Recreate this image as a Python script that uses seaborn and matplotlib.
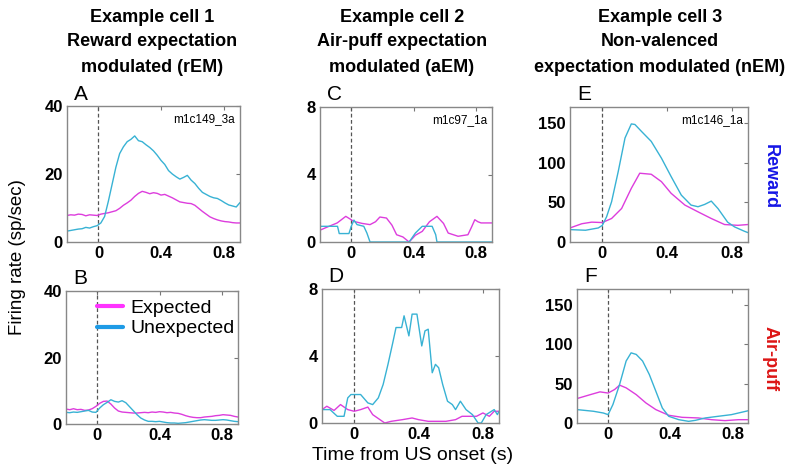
import numpy as np
import matplotlib
matplotlib.use('Agg')
import matplotlib.pyplot as plt
from matplotlib import font_manager
from matplotlib.lines import Line2D
import seaborn as sns

# ---- data ----
# panels A/B share one time grid
t_ab = np.linspace(-0.2, 0.9, 47)

a_expected = [7.8, 8.0, 7.9, 8.2, 8.1, 7.7, 8.0, 7.9, 7.8, 8.2, 8.4, 8.6, 8.9, 9.2, 9.9, 10.8,
              11.5, 12.3, 13.4, 14.3, 14.9, 14.6, 14.2, 14.5, 14.3, 13.8, 14.0, 13.5, 13.0, 12.4,
              11.8, 11.6, 11.4, 11.3, 10.8, 9.9, 9.0, 8.2, 7.4, 6.9, 6.5, 6.2, 6.0, 5.9, 5.7, 5.6, 5.6]
a_unexpected = [3.2, 3.4, 3.6, 3.8, 3.9, 4.3, 4.1, 4.5, 4.8, 5.6, 7.5, 12.0, 17.0, 22.0, 26.0, 28.0,
                29.5, 30.2, 31.2, 29.8, 29.5, 28.6, 27.8, 26.8, 25.5, 24.0, 22.8, 21.0, 20.0, 19.2,
                18.5, 19.0, 19.6, 18.2, 17.2, 15.8, 14.6, 14.0, 13.4, 13.0, 12.8, 12.2, 11.5, 10.9,
                10.6, 10.3, 11.6]

b_expected = [4.5, 4.3, 4.6, 4.3, 4.4, 4.1, 4.2, 4.6, 5.3, 6.2, 6.8, 6.9, 6.0, 4.8, 3.9, 3.6,
              3.5, 3.4, 3.3, 3.3, 3.4, 3.5, 3.4, 3.6, 3.5, 3.7, 3.6, 3.4, 3.5, 3.3, 3.2, 2.9,
              2.5, 2.2, 2.0, 1.9, 1.9, 2.1, 2.2, 2.3, 2.5, 2.6, 2.8, 2.7, 2.6, 2.3, 2.1]
b_unexpected = [3.5, 3.4, 3.6, 3.5, 3.7, 3.9, 4.1, 3.6, 3.5, 4.8, 5.8, 6.5, 7.3, 6.8, 6.6, 7.0,
                6.4, 5.2, 4.0, 2.8, 1.8, 1.2, 0.8, 0.8, 0.7, 0.8, 0.6, 0.4, 0.3, 0.3, 0.2, 0.3,
                0.4, 0.6, 0.8, 1.0, 1.2, 1.3, 1.2, 1.1, 1.1, 1.2, 1.3, 1.2, 1.0, 0.8, 0.7]

c_exp_t = [-0.2, -0.15, -0.09, -0.035, 0.017, 0.07, 0.12, 0.155, 0.183, 0.225, 0.26, 0.29, 0.33,
           0.37, 0.41, 0.454, 0.5, 0.548, 0.59, 0.62, 0.683, 0.746, 0.77, 0.79, 0.81, 0.83, 0.9]
c_exp_v = [0.7, 0.9, 1.13, 1.52, 1.22, 1.1, 1.03, 1.2, 1.48, 1.42, 1.0, 0.43, 0.3,
           0.0, 0.4, 0.63, 1.2, 1.52, 1.1, 0.53, 0.34, 0.43, 0.9, 1.32, 1.2, 1.13, 1.13]
c_unexp_t = [-0.2, -0.088, -0.082, -0.077, -0.015, 0.0, 0.017, 0.037, 0.08, 0.1, 0.12,
             0.37, 0.41, 0.454, 0.517, 0.54, 0.548, 0.9]
c_unexp_v = [0.93, 0.93, 0.7, 0.5, 0.5, 0.93, 1.3, 1.03, 0.93, 0.53, 0.0,
             0.0, 0.53, 0.93, 0.93, 0.43, 0.0, 0.0]

d_exp_t = [-0.2, -0.17, -0.125, -0.085, -0.04, 0, 0.04, 0.085, 0.115, 0.16, 0.19, 0.23,
           0.3, 0.36, 0.4, 0.46, 0.57, 0.63, 0.67, 0.76, 0.8, 0.84, 0.87, 0.9]
d_exp_v = [0.8, 1.0, 0.75, 1.1, 0.8, 0.7, 0.8, 0.95, 0.5, 0.2, 0.0, 0.1,
           0.2, 0.3, 0.2, 0.1, 0.1, 0.2, 0.4, 0.4, 0.6, 0.4, 0.7, 0.7]
d_unexp_t = [-0.2, -0.15, -0.105, -0.063, -0.04, -0.02, 0.04, 0.085, 0.115, 0.15, 0.18, 0.21,
             0.24, 0.26, 0.295, 0.31, 0.34, 0.36, 0.39, 0.42, 0.44, 0.46, 0.485, 0.505, 0.525,
             0.55, 0.58, 0.61, 0.63, 0.66, 0.695, 0.735, 0.77, 0.79, 0.82, 0.87, 0.89, 0.9]
d_unexp_v = [0.8, 0.8, 0.4, 0.4, 1.5, 1.7, 1.7, 1.2, 1.1, 1.5, 2.3, 3.5,
             4.8, 5.7, 5.7, 6.4, 5.2, 6.5, 6.5, 4.6, 5.5, 5.6, 3.0, 3.5, 3.3,
             2.3, 1.3, 1.1, 0.8, 1.3, 0.8, 0.5, 0.0, 0.0, 0.5, 0.8, 0.5, 0.7]

e_exp_t = [-0.2, -0.127, -0.066, 0, 0.057, 0.119, 0.179, 0.231, 0.302, 0.365, 0.425, 0.51,
           0.591, 0.673, 0.755, 0.837, 0.9]
e_exp_v = [17.7, 23, 25, 24.5, 29.6, 42.2, 67.6, 86.6, 85.3, 76, 61.3, 46.5, 38, 29.6, 22, 21, 22]
e_unexp_t = [-0.2, -0.104, -0.025, 0, 0.026, 0.057, 0.098, 0.14, 0.179, 0.201, 0.243, 0.302,
             0.365, 0.425, 0.488, 0.548, 0.591, 0.632, 0.673, 0.715, 0.774, 0.817, 0.878, 0.9]
e_unexp_v = [15.6, 14.8, 17.7, 21, 31.7, 50.7, 88.7, 131, 148.7, 148, 139, 126.7,
             105.6, 82.4, 59, 46.5, 44.4, 47.3, 51.5, 42, 25, 19, 13.5, 11.8]

f_exp_t = [-0.2, -0.114, -0.052, 0, 0.042, 0.074, 0.116, 0.181, 0.243, 0.307, 0.39, 0.476,
           0.581, 0.666, 0.752, 0.838, 0.9]
f_exp_v = [31, 36, 39.5, 38, 42.5, 48, 44.6, 36, 25.5, 17, 9.8, 7.2, 6.4, 4.2, 3, 4.2, 4.2]
f_unexp_t = [-0.2, -0.095, -0.031, 0, 0.031, 0.074, 0.116, 0.148, 0.181, 0.222, 0.265, 0.307,
             0.349, 0.39, 0.455, 0.518, 0.562, 0.625, 0.708, 0.793, 0.9]
f_unexp_v = [17, 14.9, 12.7, 10.6, 23.4, 48.9, 78.6, 89, 87, 78.6, 61.6, 40.4,
             19, 8.5, 4.2, 2.1, 3.4, 6.4, 8.5, 10.6, 15.5]

col_titles = [["Example cell 1", "Reward expectation", "modulated (rEM)"],
              ["Example cell 2", "Air-puff expectation", "modulated (aEM)"],
              ["Example cell 3", "Non-valenced", "expectation modulated (nEM)"]]
cell_ids = ["m1c149_3a", "m1c97_1a", "m1c146_1a"]
x_ticks = [0, 0.4, 0.8]
x_ticklabels = ["0", "0.4", "0.8"]

MAGENTA = '#dd3ddd'
CYAN = '#38b2d4'

# ---- style ----
sns.set_style('white')
names = {f.name for f in font_manager.fontManager.ttflist}
narrow = 'Liberation Sans Narrow' if 'Liberation Sans Narrow' in names else 'Liberation Sans'
plt.rcParams['font.family'] = ['Liberation Sans', 'DejaVu Sans']
plt.rcParams['text.color'] = 'black'

fig = plt.figure(figsize=(8, 4.75), dpi=100)
W, H = 800, 475


def px_axes(left, top, right, bottom):
    return fig.add_axes([left / W, 1 - bottom / H, (right - left) / W, (bottom - top) / H])


panels = [
    # letter, box(px), series, ylim, yticks, id text
    ('A', (67, 106, 240, 242), t_ab, a_expected, t_ab, a_unexpected, 40, [0, 20, 40], cell_ids[0]),
    ('B', (66, 291, 238, 424), t_ab, b_expected, t_ab, b_unexpected, 40, [0, 20, 40], None),
    ('C', (320, 107, 492, 242), c_exp_t, c_exp_v, c_unexp_t, c_unexp_v, 8, [0, 4, 8], cell_ids[1]),
    ('D', (322, 289, 499, 423), d_exp_t, d_exp_v, d_unexp_t, d_unexp_v, 8, [0, 4, 8], None),
    ('E', (570, 107, 748, 242), e_exp_t, e_exp_v, e_unexp_t, e_unexp_v, 170, [0, 50, 100, 150], cell_ids[2]),
    ('F', (577, 289, 748, 423), f_exp_t, f_exp_v, f_unexp_t, f_unexp_v, 170, [0, 50, 100, 150], None),
]

for letter, box, te, ve, tu, vu, ymax, yticks, cid in panels:
    ax = px_axes(*box)
    sns.lineplot(x=te, y=ve, ax=ax, color=MAGENTA, linewidth=1.0, estimator=None, sort=False)
    sns.lineplot(x=tu, y=vu, ax=ax, color=CYAN, linewidth=1.0, estimator=None, sort=False)
    ax.axvline(0, color='#555555', ls=(0, (3, 2)), lw=0.9, zorder=1)
    ax.set_xlim(-0.2, 0.9)
    ax.set_ylim(0, ymax)
    ax.set_xticks(x_ticks)
    ax.set_xticklabels(x_ticklabels)
    ax.set_yticks(yticks)
    ax.set_xlabel('')
    ax.set_ylabel('')
    ax.tick_params(direction='in', length=3, width=0.8, color='#777777', top=True, right=True,
                   labelsize=12, labelcolor='black', pad=3)
    for lab in ax.get_xticklabels() + ax.get_yticklabels():
        lab.set_fontweight('bold')
    for sp in ax.spines.values():
        sp.set_color('#888888')
        sp.set_linewidth(1.0)
    if cid:
        ax.text(0.97, 0.95, cid, transform=ax.transAxes, ha='right', va='top', fontsize=8.5)
    fig.text((box[0] + 14) / W, 1 - (box[1] - 12) / H, letter, fontsize=15,
             ha='center', va='center')
    if letter == 'B':
        handles = [Line2D([], [], color='#ff33ff', lw=3),
                   Line2D([], [], color='#1e9be6', lw=3)]
        ax.legend(handles, ['Expected', 'Unexpected'], loc='upper left',
                  bbox_to_anchor=(0.08, 1.07), frameon=False, fontsize=14,
                  handlelength=1.3, handletextpad=0.4, labelspacing=0.15)

# column titles
for cx, lines in zip([152, 402, 660], col_titles):
    for i, line in enumerate(lines):
        fig.text(cx / W, 1 - (17 + 25 * i) / H, line, fontsize=13, fontweight='bold',
                 family=[narrow, 'DejaVu Sans'], ha='center', va='center')

fig.text(18 / W, 1 - 257 / H, 'Firing rate (sp/sec)', rotation=90, fontsize=13.5,
         ha='center', va='center')
fig.text(413 / W, 1 - 455 / H, 'Time from US onset (s)', fontsize=14,
         ha='center', va='center')
fig.text(770 / W, 1 - 177 / H, 'Reward', rotation=-90, fontsize=13, fontweight='bold',
         color='#1515e6', ha='center', va='center')
fig.text(770 / W, 1 - 359 / H, 'Air-puff', rotation=-90, fontsize=13, fontweight='bold',
         color='#dd1515', ha='center', va='center')

fig.savefig('out.png', dpi=100)
